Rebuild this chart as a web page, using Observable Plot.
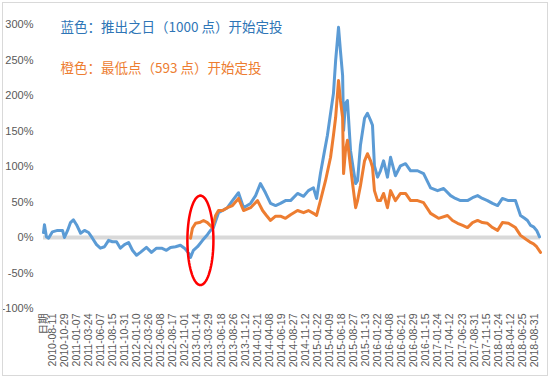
<!DOCTYPE html>
<html>
<head>
<meta charset="utf-8">
<script src="https://cdn.jsdelivr.net/npm/d3@7"></script>
<script src="https://cdn.jsdelivr.net/npm/@observablehq/plot@0.6"></script>
<style>
  html, body { margin: 0; padding: 0; background: #fff; }
  #wrap { position: relative; width: 550px; height: 377px; }
  #border { position: absolute; left: 2px; top: 2px; width: 544px; height: 372px; border: 1px solid #d9d9d9; pointer-events: none; }
</style>
</head>
<body>
<div id="wrap"><div id="border"></div></div>
<script>
// x = trading-day index from the first date
const blueDay = [0,4,12,21,37,58,79,87,100,112,124,137,154,170,187,203,220,236,253,270,286,303,319,336,353,369,386,402,427,448,469,490,510,527,548,568,585,602,610,622,639,660,680,693,705,726,743,763,784,809,830,859,880,900,921,942,963,983,1004,1025,1054,1079,1099,1120,1133,1149,1166,1178,1191,1203,1212,1224,1232,1241,1245,1253,1261,1274,1286,1295,1303,1315,1332,1344,1357,1365,1373,1386,1398,1411,1427,1440,1460,1481,1502,1523,1552,1577,1606,1635,1660,1689,1709,1730,1759,1780,1801,1821,1842,1863,1884,1904,1929,1958,1979,1996,2008,2021,2033,2046,2058];
const blueVal = [7,18,1,-1,8,10,10,0,10,21,25,18,6,10,7,-1,-10,-15,-13,-4,-6,-6,-15,-10,-7,-18,-25,-21,-14,-21,-15,-15,-18,-14,-13,-11,-15,-22,-28,-18,-13,-4,4,10,14,35,38,42,52,63,42,48,59,76,63,48,45,48,52,52,62,58,66,70,55,90,122,144,175,203,249,296,263,228,151,189,193,122,95,76,80,130,168,175,165,158,101,85,94,108,85,113,87,101,104,94,94,90,70,66,69,59,55,52,52,56,59,55,52,48,45,55,52,52,31,27,24,17,15,10,1];
const orangeDay = [610,618,631,647,664,680,701,714,726,743,763,784,809,830,859,888,909,925,942,963,983,1004,1025,1054,1079,1099,1120,1133,1149,1170,1191,1203,1212,1224,1232,1241,1245,1253,1261,1274,1286,1295,1303,1315,1332,1344,1357,1365,1373,1386,1398,1411,1427,1440,1460,1481,1502,1523,1552,1577,1606,1639,1676,1697,1718,1739,1759,1780,1801,1821,1842,1863,1884,1904,1929,1958,1979,1996,2008,2021,2033,2046,2062];
const orangeVal = [-1,13,20,21,24,21,14,31,38,38,42,45,55,38,42,52,38,31,24,30,30,27,32,38,35,38,34,31,52,80,113,144,169,221,193,169,90,123,137,99,66,42,52,73,108,118,108,99,66,52,52,62,42,66,52,62,62,52,52,49,34,27,31,24,20,17,14,21,24,21,20,14,10,21,20,14,3,-1,-4,-7,-9,-13,-21];

const tickDay = [0,37,87,137,187,237,287,337,387,437,487,537,587,637,687,737,787,837,887,937,987,1037,1087,1137,1187,1237,1287,1337,1387,1437,1487,1537,1587,1637,1687,1737,1787,1837,1887,1937,1987,2037];
const tickLabels = ["日期","2010-08-11","2010-10-29","2011-01-07","2011-03-24","2011-06-07","2011-08-15","2011-10-31","2012-01-10","2012-03-26","2012-06-08","2012-08-17","2012-11-01","2013-01-14","2013-03-29","2013-06-18","2013-08-26","2013-11-12","2014-01-21","2014-04-08","2014-06-19","2014-08-27","2014-11-12","2015-01-22","2015-04-09","2015-06-18","2015-08-27","2015-11-13","2016-01-22","2016-04-08","2016-06-21","2016-08-29","2016-11-15","2017-01-24","2017-04-12","2017-06-23","2017-08-31","2017-11-15","2018-01-24","2018-04-12","2018-06-25","2018-08-31"];
const yTicks = [-100,-50,0,50,100,150,200,250,300];
const legendTexts = ["蓝色：推出之日（1000 点）开始定投", "橙色：最低点（593 点）开始定投"];
// annotation ellipse (data units): center day, center %, radius days, radius %
const ellipseSpec = {cx: 651, cy: -4, rx: 54, ry: 63};

const blue = blueDay.map((d, i) => ({d, v: blueVal[i]}));
const orange = orangeDay.map((d, i) => ({d, v: orangeVal[i]}));
const labelMap = new Map(tickDay.map((d, i) => [d, tickLabels[i]]));
const ell = d3.range(0, 73).map(k => {
  const t = k / 72 * 2 * Math.PI;
  return {d: ellipseSpec.cx + ellipseSpec.rx * Math.cos(t), v: ellipseSpec.cy + ellipseSpec.ry * Math.sin(t)};
});

const font = "'Liberation Sans', 'Noto Sans CJK SC', sans-serif";
const chart = Plot.plot({
  width: 550, height: 377,
  marginTop: 24, marginBottom: 69, marginLeft: 43, marginRight: 10,
  x: {domain: [0, 2062], axis: null, label: null},
  y: {domain: [-100, 300], axis: null, label: null},
  style: {fontFamily: font, background: "transparent", overflow: "visible"},
  marks: [
    Plot.ruleY([0], {stroke: "#d9d9d9", strokeWidth: 4}),
    Plot.axisY({ticks: yTicks, tickFormat: d => d + "%", tickSize: 0, tickPadding: 10, fontSize: 11, color: "#595959", label: null}),
    Plot.axisX({ticks: tickDay, tickFormat: d => labelMap.get(d), tickRotate: -90, tickSize: 0, tickPadding: 5, fontSize: 10.5, color: "#595959", label: null}),
    Plot.line(blue, {x: "d", y: "v", stroke: "#5b9bd5", strokeWidth: 3, strokeLinejoin: "round"}),
    Plot.line(orange, {x: "d", y: "v", stroke: "#ed7d31", strokeWidth: 3, strokeLinejoin: "round"}),
    Plot.line(ell, {x: "d", y: "v", stroke: "#ff0000", strokeWidth: 2.5, curve: "linear-closed"}),
    Plot.text([legendTexts[0]], {x: 71, y: 290, text: d => d, textAnchor: "start", lineAnchor: "bottom", fill: "#2e75b6", fontSize: 13.5, fontFamily: "'Noto Sans CJK SC', sans-serif"}),
    Plot.text([legendTexts[1]], {x: 71, y: 231, text: d => d, textAnchor: "start", lineAnchor: "bottom", fill: "#ed7d31", fontSize: 13.5, fontFamily: "'Noto Sans CJK SC', sans-serif"})
  ]
});
document.getElementById("wrap").insertBefore(chart, document.getElementById("border"));
</script>
</body>
</html>
